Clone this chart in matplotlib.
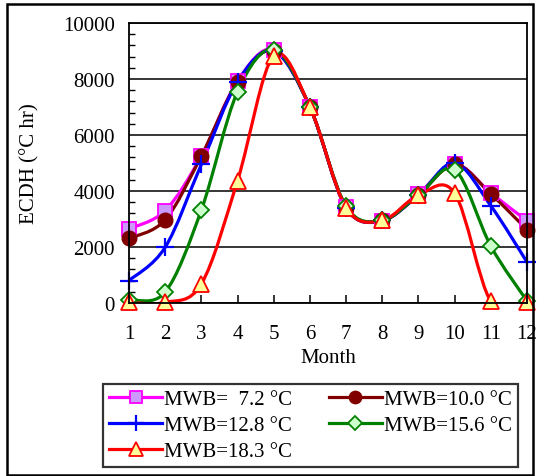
import matplotlib
matplotlib.use("Agg")
import matplotlib.pyplot as plt
from matplotlib.path import Path
from matplotlib.patches import PathPatch, Rectangle
from matplotlib.lines import Line2D

plt.rcParams["font.family"] = ["Liberation Serif", "DejaVu Serif"]

# 数据
months = [1, 2, 3, 4, 5, 6, 7, 8, 9, 10, 11, 12]
ecdh_72 = [2650, 3300, 5250, 7930, 9050, 7000, 3430, 2930, 3890, 4960, 3930, 2930]
ecdh_100 = [2310, 2970, 5250, 7900, 9000, 7000, 3400, 2950, 3850, 4950, 3890, 2620]
ecdh_128 = [800, 1990, 4950, 7900, 9000, 7000, 3400, 2950, 3850, 5000, 3470, 1460]
ecdh_156 = [120, 390, 3320, 7550, 9050, 7000, 3450, 2950, 3850, 4760, 2030, 70]
ecdh_183 = [20, 20, 680, 4370, 8830, 7000, 3400, 2950, 3850, 3920, 60, 20]

labels = ["MWB=  7.2 °C", "MWB=10.0 °C", "MWB=12.8 °C", "MWB=15.6 °C", "MWB=18.3 °C"]
series = [ecdh_72, ecdh_100, ecdh_128, ecdh_156, ecdh_183]

styles = [
    dict(color="#ff00ff", marker="s", mfc="#cc99ff", mec="#ff00ff", ms=10.5, mew=1.3),
    dict(color="#800000", marker="o", mfc="#800000", mec="#800000", ms=10.5, mew=1.0),
    dict(color="#0000ff", marker="+", mfc="#0000ff", mec="#0000ff", ms=13, mew=1.6),
    dict(color="#008000", marker="D", mfc="#ccffcc", mec="#008000", ms=8.5, mew=1.3),
    dict(color="#ff0000", marker="^", mfc="#ffff99", mec="#ff0000", ms=12, mew=1.3),
]

FS = 15


def smooth_path(x, y):
    # Excel 风格的平滑曲线（贝塞尔）
    verts = [(x[0], y[0])]
    codes = [Path.MOVETO]
    n = len(x)
    for i in range(n - 1):
        x0, y0 = (x[i - 1], y[i - 1]) if i > 0 else (x[i], y[i])
        x3, y3 = (x[i + 2], y[i + 2]) if i + 2 < n else (x[i + 1], y[i + 1])
        c1 = (x[i] + (x[i + 1] - x0) / 6, y[i] + (y[i + 1] - y0) / 6)
        c2 = (x[i + 1] - (x3 - x[i]) / 6, y[i + 1] - (y3 - y[i]) / 6)
        verts += [c1, c2, (x[i + 1], y[i + 1])]
        codes += [Path.CURVE4] * 3
    return Path(verts, codes)


fig = plt.figure(figsize=(5.37, 4.77), dpi=100)
ax = fig.add_axes([0.2402, 0.3627, 0.7412, 0.587])

handles = []
for vals, st, lab in zip(series, styles, labels):
    ax.add_patch(PathPatch(smooth_path(months, vals), facecolor="none",
                           edgecolor=st["color"], lw=2.3, capstyle="round", joinstyle="round"))
    ax.plot(months, vals, linestyle="none", marker=st["marker"], ms=st["ms"],
            mfc=st["mfc"], mec=st["mec"], mew=st["mew"], clip_on=False)
    handles.append(Line2D([], [], color=st["color"], lw=2.3, marker=st["marker"],
                          ms=st["ms"] * 0.85, mfc=st["mfc"], mec=st["mec"], mew=st["mew"]))

ax.set_xlim(1, 12)
ax.set_ylim(0, 10000)
ax.set_xticks(months)
ax.set_yticks(range(0, 10001, 2000))
ax.set_yticks(range(0, 10001, 400), minor=True)
ax.grid(True, axis="y", color="black", lw=1.1)
ax.set_axisbelow(True)
for s in ax.spines.values():
    s.set_linewidth(1.3)
ax.tick_params(axis="x", direction="in", length=6, width=1.1, pad=15, labelsize=FS)
ax.tick_params(axis="y", which="major", length=0, pad=10, labelsize=FS)
ax.tick_params(axis="y", which="minor", direction="in", length=4, width=1.0)
ax.set_xlabel("Month", fontsize=FS, labelpad=4)
ax.set_ylabel("ECDH (°C hr)", fontsize=FS, labelpad=17)

order = [0, 2, 4, 1, 3]
leg = fig.legend([handles[i] for i in order], [labels[i] for i in order],
                 loc="center", bbox_to_anchor=(0.578, 0.106), ncol=2,
                 fontsize=FS, frameon=True, fancybox=False, handlelength=2.55,
                 handletextpad=0.1, columnspacing=1.75, labelspacing=0.3,
                 borderpad=0.3, borderaxespad=0)
leg.get_frame().set_edgecolor("black")
leg.get_frame().set_linewidth(1.6)

fig.patches.append(Rectangle((0.013, 0.002), 0.98, 0.988, transform=fig.transFigure,
                             fill=False, edgecolor="black", lw=1.8))

fig.savefig("out.png", dpi=100)
